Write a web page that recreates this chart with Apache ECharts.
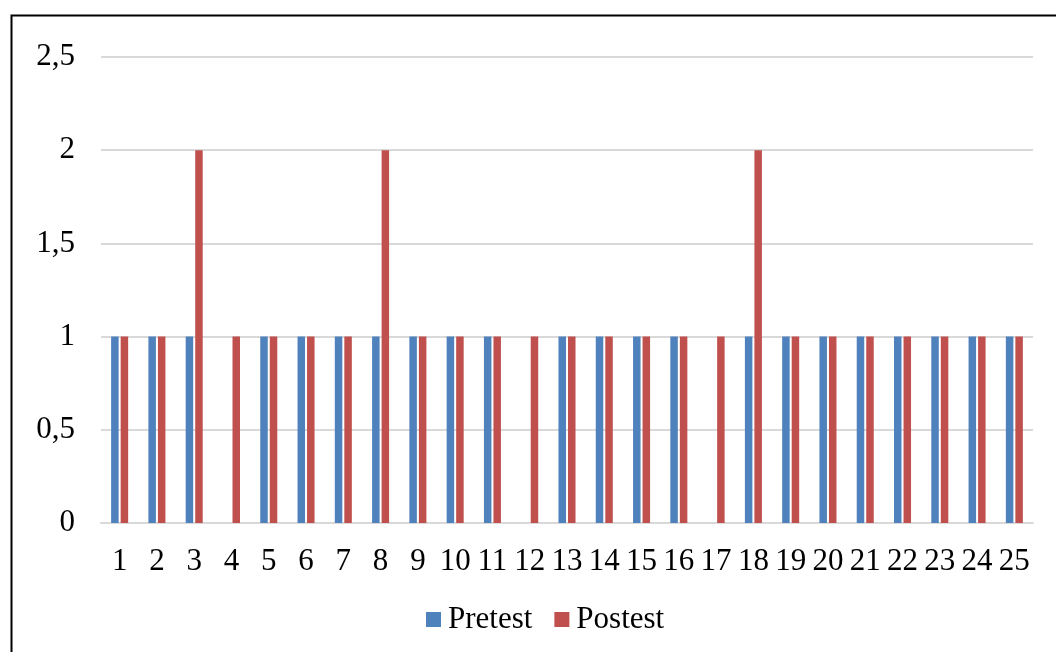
<!DOCTYPE html>
<html>
<head>
<meta charset="utf-8">
<script src="https://cdn.jsdelivr.net/npm/echarts@6/dist/echarts.min.js"></script>
<style>
html,body{margin:0;padding:0;background:#fff;}
#c{width:1056px;height:652px;}
</style>
</head>
<body>
<div id="c"></div>
<script>
const categories = ['1','2','3','4','5','6','7','8','9','10','11','12','13','14','15','16','17','18','19','20','21','22','23','24','25'];
const pretest = [1,1,1,0,1,1,1,1,1,1,1,0,1,1,1,1,0,1,1,1,1,1,1,1,1];
const postest = [1,1,2,1,1,1,1,2,1,1,1,1,1,1,1,1,1,2,1,1,1,1,1,1,1];
const seriesNames = ['Pretest','Postest'];

const FONT = '"Liberation Serif", "Times New Roman", serif';
const chart = echarts.init(document.getElementById('c'), null, {renderer:'canvas'});
chart.setOption({
  animation:false,
  backgroundColor:'#fff',
  graphic:[{type:'rect', left:9, top:13, shape:{x:0,y:0,width:1060,height:660}, style:{fill:'none', stroke:'#000', lineWidth:2}, silent:true}],
  grid:{left:101, right:23, top:57, bottom:129, containLabel:false},
  legend:{
    data:seriesNames, bottom:12, left:421, itemWidth:15, itemHeight:15, itemGap:22,
    icon:'rect',
    textStyle:{fontFamily:FONT, fontSize:31, color:'#000', padding:[0,0,0,2]}
  },
  xAxis:{
    type:'category', data:categories,
    axisLine:{lineStyle:{color:'#d9d9d9', width:2}},
    axisTick:{show:false},
    axisLabel:{fontFamily:FONT, fontSize:31, color:'#000', margin:23, interval:0}
  },
  yAxis:{
    type:'value', min:0, max:2.5, interval:0.5,
    axisLine:{show:false}, axisTick:{show:false},
    splitLine:{lineStyle:{color:'#d9d9d9', width:2}},
    axisLabel:{fontFamily:FONT, fontSize:31, color:'#000', margin:26,
      formatter:v=>String(v).replace('.',',')}
  },
  series:[
    {name:seriesNames[0], type:'bar', data:pretest, barWidth:7.5, barGap:'27%', itemStyle:{color:'#4F81BD'}},
    {name:seriesNames[1], type:'bar', data:postest, barWidth:7.5, barGap:'27%', itemStyle:{color:'#C0504D'}}
  ]
});
</script>
</body>
</html>
